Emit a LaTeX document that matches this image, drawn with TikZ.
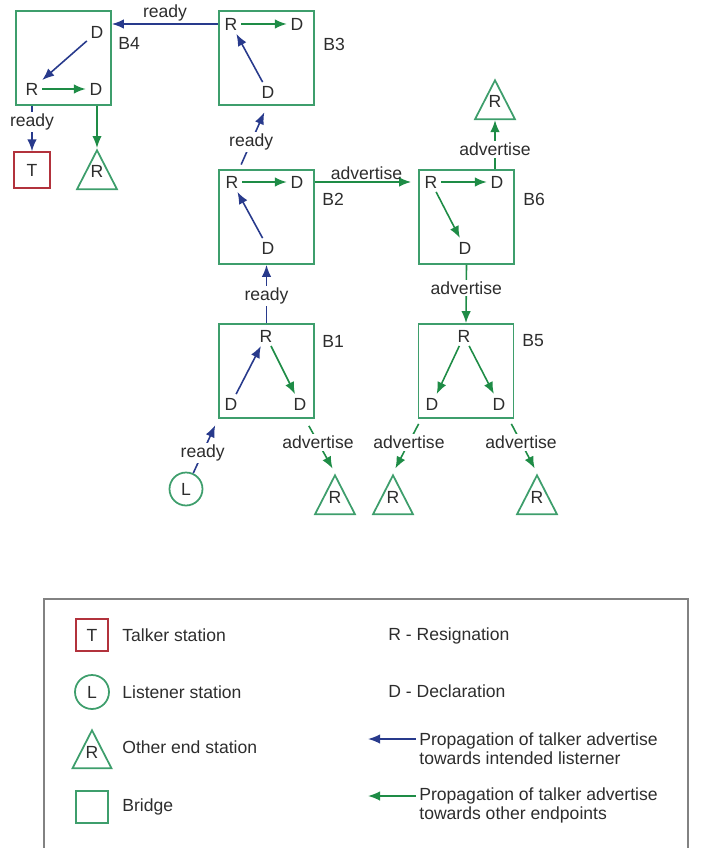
\documentclass[tikz,border=0pt]{standalone}
\usepackage{fontspec}
\setmainfont{Liberation Sans}
\usetikzlibrary{shapes.geometric,calc,arrows.meta}
\definecolor{brgreen}{RGB}{62,158,108}
\definecolor{argreen}{RGB}{30,140,70}
\definecolor{arblue}{RGB}{40,58,140}
\definecolor{tkred}{RGB}{178,50,60}
\definecolor{txgray}{RGB}{45,45,45}
\definecolor{frgray}{RGB}{130,130,130}

\begin{document}
\begin{tikzpicture}[x=0.02cm, y=-0.02cm, >={Latex[length=2.4mm,width=1.9mm]},
  every node/.style={font=\fontsize{10}{11}\selectfont, text=txgray},
  bridge/.style={draw=brgreen, line width=1pt, minimum width=1.9cm, minimum height=1.88cm, inner sep=0pt},
  letter/.style={inner sep=2pt},
  tag/.style={anchor=west, inner sep=0pt},
  talker/.style={draw=tkred, line width=0.8pt, minimum size=0.72cm, inner sep=0pt},
  listener/.style={draw=brgreen, line width=1pt, circle, minimum size=0.66cm, inner sep=0pt},
  endst/.style={draw=brgreen, line width=1pt, isosceles triangle, isosceles triangle stretches,
    shape border rotate=90, minimum width=0.8cm, minimum height=0.78cm, inner sep=0pt, anchor=apex},
  rdy/.style={->, draw=arblue, line width=0.9pt},
  adv/.style={->, draw=argreen, line width=0.9pt},
  lbl/.style={fill=white, inner sep=1pt}]
  \useasboundingbox (0,0) rectangle (708,848);

  \node[bridge] (b4) at (63.5,58) {};
  \node[bridge] (b3) at (266.5,58) {};
  \node[bridge] (b2) at (266.5,217) {};
  \node[bridge] (b6) at (466.5,217) {};
  \node[bridge] (b1) at (266.5,371) {};
  \node[bridge] (b5) at (466,371) {};
  \node[tag] at (118,43) {B4};
  \node[tag] at (323,44) {B3};
  \node[tag] at (322,199) {B2};
  \node[tag] at (523,199) {B6};
  \node[tag] at (322,341) {B1};
  \node[tag] at (522,341) {B5};

  \node[letter] (b4d1) at (97,32) {D};
  \node[letter] (b4r) at (32,89) {R};
  \node[letter] (b4d2) at (96,89) {D};
  \draw[rdy] (b4d1) -- (b4r);
  \draw[adv] (b4r) -- (b4d2);

  \node[letter] (b3r) at (231,24) {R};
  \node[letter] (b3d1) at (297,24) {D};
  \node[letter] (b3d2) at (268,92) {D};
  \draw[adv] (b3r) -- (b3d1);
  \draw[rdy] (b3d2) -- (b3r);

  \node[letter] (b2r) at (232,182) {R};
  \node[letter] (b2d1) at (297,182) {D};
  \node[letter] (b2d2) at (268,248) {D};
  \draw[adv] (b2r) -- (b2d1);
  \draw[rdy] (b2d2) -- (b2r);

  \node[letter] (b6r) at (431,182) {R};
  \node[letter] (b6d1) at (497,182) {D};
  \node[letter] (b6d2) at (465,248) {D};
  \draw[adv] (b6r) -- (b6d1);
  \draw[adv] (b6r) -- (b6d2);

  \node[letter] (b1r) at (266,336) {R};
  \node[letter] (b1d1) at (231,404) {D};
  \node[letter] (b1d2) at (300,404) {D};
  \draw[rdy] (b1d1) -- (b1r);
  \draw[adv] (b1r) -- (b1d2);

  \node[letter] (b5r) at (464,336) {R};
  \node[letter] (b5d1) at (432,404) {D};
  \node[letter] (b5d2) at (499,404) {D};
  \draw[adv] (b5r) -- (b5d1);
  \draw[adv] (b5r) -- (b5d2);

  \node[talker] (t) at (32,170) {T};
  \node[listener] (l) at (186,489) {L};
  \node[endst] (e4) at (97,148) {};
  \node (e4r) at (97,171) {R};
  \node[endst] (e6) at (495,78) {};
  \node (e6r) at (495,101) {R};
  \node[endst] (e1) at (335,473) {};
  \node (e1r) at (335,497) {R};
  \node[endst] (e5a) at (393,473) {};
  \node (e5ar) at (393,497) {R};
  \node[endst] (e5b) at (537,473) {};
  \node (e5br) at (537,497) {R};

  \draw[rdy] (b3r -| b3.west) -- node[above, inner sep=1pt] {ready} (b3r -| b4.east);
  \draw[rdy] (b4.south -| t) -- node[lbl, pos=0.36] {ready} (t);
  \draw[adv] (b4.south -| e4.apex) -- (e4.apex);
  \draw[rdy, shorten <=1mm, shorten >=1.4mm] ($(b2.north west)+(21,0)$) -- node[lbl, pos=0.43] {ready} ($(b3.south west)+(49,0)$);
  \draw[rdy] (b1.north) -- node[lbl, pos=0.47] {ready} (b2.south);
  \draw[adv, shorten >=1.4mm] (b2r -| b2.east) -- node[above, inner sep=1pt] {advertise} (b6r -| b6.west);
  \draw[adv] (b6.north -| e6.apex) -- node[lbl, pos=0.4] {advertise} (e6.lower side);
  \draw[adv] (b6.south) -- node[lbl, pos=0.4] {advertise} (b5.north);
  \draw[rdy, shorten >=1.4mm] (l) -- node[lbl, pos=0.38] {ready} (b1.south west);
  \draw[adv, shorten >=1mm] ($(b1.south east)+(-6,7)$) -- node[lbl, pos=0.35] {advertise} (e1.apex);
  \draw[adv, shorten >=1mm] ($(b5.south west)+(1,5)$) -- node[lbl, pos=0.38] {advertise} (e5a.apex);
  \draw[adv, shorten >=1mm] ($(b5.south east)+(-3,5)$) -- node[lbl, pos=0.38] {advertise} (e5b.apex);

  \draw[frgray, line width=0.8pt] (44,848) |- (688,599) -- (688,848);
  \node[talker, minimum size=0.64cm] (kt) at (92,635) {T};
  \node[listener, minimum size=0.68cm] (kl) at (92,692) {L};
  \node[endst, minimum width=0.78cm, minimum height=0.76cm] (ke) at (92,728) {};
  \node (ker) at (92,752) {R};
  \node[bridge, minimum width=0.64cm, minimum height=0.64cm] (kb) at (92,807) {};
  \node[tag] at (122,635) {Talker station};
  \node[tag] at (122,692) {Listener station};
  \node[tag] at (122,747) {Other end station};
  \node[tag] at (122,807) {Bridge};
  \node[tag] at (388,636) {R - Resignation};
  \node[tag] at (388,691) {D - Declaration};
  \node[anchor=west, align=left, inner sep=2pt, font=\fontsize{10}{10.8}\selectfont] (prop1) at (415.5,748.5)
    {Propagation of talker advertise\\towards intended listerner};
  \node[anchor=west, align=left, inner sep=2pt, font=\fontsize{10}{10.8}\selectfont] (prop2) at (415.5,805.5)
    {Propagation of talker advertise\\towards other endpoints};
  \coordinate (a1) at (368,739);
  \coordinate (a2) at (368,796);
  \draw[rdy] (prop1.west |- a1) -- (a1);
  \draw[adv] (prop2.west |- a2) -- (a2);
\end{tikzpicture}
\end{document}
